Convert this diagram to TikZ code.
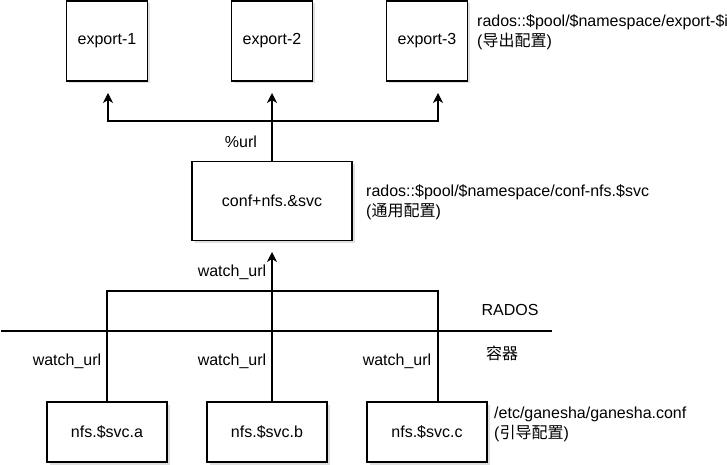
\documentclass[tikz,border=0pt]{standalone}
\usepackage{fontspec}
\setmainfont{Liberation Sans}
\newfontfamily\cjk{Noto Sans CJK SC}
\usepackage{tikz}
\usetikzlibrary{arrows.meta,shadows}

\begin{document}
\begin{tikzpicture}[x=1pt, y=-1pt,
    font=\fontsize{16}{20}\selectfont,
    box/.style={draw, line width=1.2pt, fill=white, inner sep=0pt,
      drop shadow={opacity=0.25, shadow xshift=2.5pt, shadow yshift=-2.5pt}},
    wire/.style={line width=1.2pt},
    arr/.style={wire, -{Stealth[length=10pt, width=10pt, inset=3pt]}},
    note/.style={anchor=west, align=left, inner sep=0pt}]

            \useasboundingbox (0,0) rectangle (727,465);

            % exports
            \node[box, minimum width=81, minimum height=80] (exp1) at (107,41) {export-1};
            \node[box, minimum width=81, minimum height=80] (exp2) at (272,41) {export-2};
            \node[box, minimum width=81, minimum height=80] (exp3) at (427,41) {export-3};
            \node[note] (expnote) at (477,32) {rados::\$pool/\$namespace/export-\$i\\({\cjk 导出配置})};

            % common conf
            \node[box, minimum width=160, minimum height=79] (conf) at (272,201) {conf+nfs.\&svc};
            \node[note] (confnote) at (366,202) {rados::\$pool/\$namespace/conf-nfs.\$svc\\({\cjk 通用配置})};

            % daemons
            \node[box, minimum width=120, minimum height=60] (nfsa) at (107,432) {nfs.\$svc.a};
            \node[box, minimum width=120, minimum height=60] (nfsb) at (267,432) {nfs.\$svc.b};
            \node[box, minimum width=120, minimum height=60] (nfsc) at (427,432) {nfs.\$svc.c};
            \node[note] (nfsnote) at (494,424) {/etc/ganesha/ganesha.conf\\({\cjk 引导配置})};

            % export fan-out
            \coordinate (split) at (272,121);
            \coordinate (tip1) at (108,93);
            \coordinate (tip2) at (272,93);
            \coordinate (tip3) at (438,93);
            \draw[arr] (split) -| (tip1);
            \draw[arr] (split) -| (tip3);
            \draw[arr] (conf.north) -- (tip2);
            \node (url) at (241,142) {\%url};

            % watch bus
            \coordinate (bus) at (272,291);
            \coordinate (topb) at (272,402);
            \coordinate (topc) at (438,402);
            \coordinate (tipconf) at (272,252);
            \draw[wire] (nfsa.north) |- (bus) -| (topc);
            \draw[wire] (topb) -- (bus);
            \draw[arr] (bus) -- (tipconf);
            \node (watch) at (232,272) {watch\_url};
            \node (watcha) at (67,361) {watch\_url};
            \node (watchb) at (232,361) {watch\_url};
            \node (watchc) at (397,361) {watch\_url};

            % layer border
            \coordinate (borderl) at (1,331);
            \coordinate (borderr) at (552,331);
            \draw[wire] (borderl) -- (borderr);
            \node (rados) at (510,310) {RADOS};
            \node (ctr) at (502,353) {\cjk 容器};

\end{tikzpicture}
\end{document}
